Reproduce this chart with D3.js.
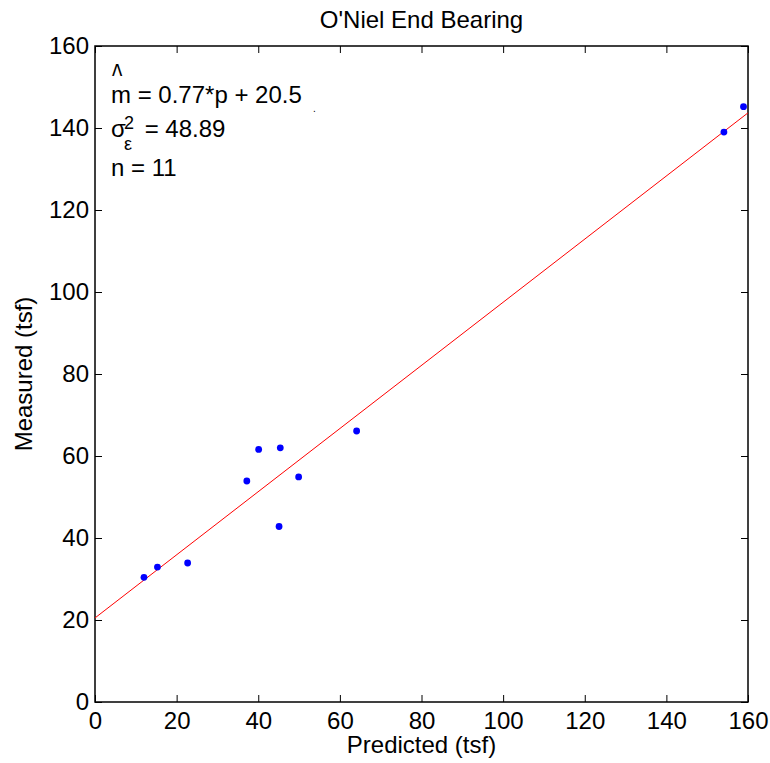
<!DOCTYPE html>
<html>
<head>
<meta charset="utf-8">
<script src="https://cdn.jsdelivr.net/npm/d3@7"></script>
<style>
  body { margin: 0; background: #fff; }
  svg text { font-family: "Liberation Sans", Arial, Helvetica, sans-serif; }
</style>
</head>
<body>
<div id="chart"></div>
<script>
// measured points (predicted, measured) in tsf
const predicted = [12, 15.3, 22.7, 37.2, 40.1, 45.4, 45.1, 49.9, 64.1, 154.1, 158.9];
const measured  = [30.4, 32.9, 33.9, 53.9, 61.6, 62.0, 42.8, 54.9, 66.1, 139.0, 145.2];

// fitted line ends
const fitP = [0, 160];
const fitM = [20.5, 143.7];

const xTicks = [0, 20, 40, 60, 80, 100, 120, 140, 160];
const yTicks = [0, 20, 40, 60, 80, 100, 120, 140, 160];

const width = 770;
const height = 763;
const marginTop = 46;
const marginRight = 22;
const marginBottom = 61;
const marginLeft = 95;

const x = d3.scaleLinear()
    .domain([0, 160])
    .range([marginLeft, width - marginRight]);

const y = d3.scaleLinear()
    .domain([0, 160])
    .range([height - marginBottom, marginTop]);

const svg = d3.select("#chart").append("svg")
    .attr("width", width)
    .attr("height", height);

// bottom axis, ticks pointing in
svg.append("g")
    .attr("transform", `translate(0,${height - marginBottom})`)
    .call(d3.axisBottom(x).tickValues(xTicks).tickSizeInner(-7).tickSizeOuter(0).tickPadding(10))
    .call(g => g.select(".domain").remove())
    .call(g => g.selectAll("text").attr("font-size", 24).attr("font-family", null).attr("fill", "#000"));

// top axis, ticks only
svg.append("g")
    .attr("transform", `translate(0,${marginTop})`)
    .call(d3.axisTop(x).tickValues(xTicks).tickSizeInner(-7).tickSizeOuter(0).tickFormat(""))
    .call(g => g.select(".domain").remove());

// left axis
svg.append("g")
    .attr("transform", `translate(${marginLeft},0)`)
    .call(d3.axisLeft(y).tickValues(yTicks).tickSizeInner(-7).tickSizeOuter(0).tickPadding(6))
    .call(g => g.select(".domain").remove())
    .call(g => g.selectAll("text").attr("font-size", 24).attr("font-family", null).attr("fill", "#000"));

// right axis, ticks only
svg.append("g")
    .attr("transform", `translate(${width - marginRight},0)`)
    .call(d3.axisRight(y).tickValues(yTicks).tickSizeInner(-7).tickSizeOuter(0).tickFormat(""))
    .call(g => g.select(".domain").remove());

svg.selectAll(".tick line").attr("stroke", "#000").attr("stroke-width", 1);

// box
svg.append("rect")
    .attr("x", marginLeft)
    .attr("y", marginTop)
    .attr("width", width - marginLeft - marginRight)
    .attr("height", height - marginTop - marginBottom)
    .attr("fill", "none")
    .attr("stroke", "#000")
    .attr("stroke-width", 1.5);

// fit line
const line = d3.line()
    .x(d => x(d[0]))
    .y(d => y(d[1]));

svg.append("path")
    .attr("d", line(d3.zip(fitP, fitM)))
    .attr("fill", "none")
    .attr("stroke", "#ff0000")
    .attr("stroke-width", 1);

// points
svg.append("g")
    .selectAll("circle")
    .data(d3.zip(predicted, measured))
    .join("circle")
    .attr("cx", d => x(d[0]))
    .attr("cy", d => y(d[1]))
    .attr("r", 3.4)
    .attr("fill", "#0000ff");

// title
svg.append("text")
    .attr("x", (marginLeft + width - marginRight) / 2)
    .attr("y", 28)
    .attr("text-anchor", "middle")
    .attr("font-size", 24)
    .text("O'Niel End Bearing");

// axis labels
svg.append("text")
    .attr("x", (marginLeft + width - marginRight) / 2)
    .attr("y", 753)
    .attr("text-anchor", "middle")
    .attr("font-size", 24)
    .text("Predicted (tsf)");

svg.append("text")
    .attr("transform", `translate(32,${(marginTop + height - marginBottom) / 2}) rotate(-90)`)
    .attr("text-anchor", "middle")
    .attr("font-size", 24)
    .text("Measured (tsf)");

// annotation
const ann = svg.append("g");

ann.append("text")
    .attr("x", 111)
    .attr("y", 103)
    .attr("font-size", 24)
    .text("m = 0.77*p + 20.5");

ann.append("text")
    .attr("transform", "translate(112,87) scale(1,1.5)")
    .attr("font-size", 22)
    .text("^");

const s = ann.append("text")
    .attr("x", 111)
    .attr("y", 137)
    .attr("font-size", 24);
s.append("tspan").text("σ");
s.append("tspan").attr("x", 124).attr("y", 129).attr("font-size", 18).text("2");
s.append("tspan").attr("x", 124).attr("y", 150).attr("font-size", 18).text("ε");
s.append("tspan").attr("x", 138).attr("y", 137).text(" = 48.89");

ann.append("text")
    .attr("x", 111)
    .attr("y", 176)
    .attr("font-size", 24)
    .text("n = 11");

ann.append("text")
    .attr("x", 313)
    .attr("y", 112)
    .attr("font-size", 10)
    .text(".");
</script>
</body>
</html>
